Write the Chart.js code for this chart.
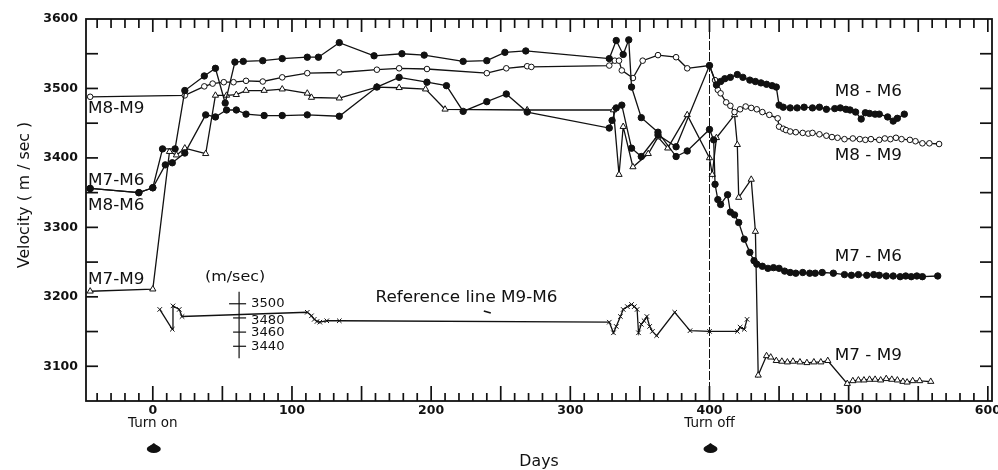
<!DOCTYPE html>
<html>
<head>
<meta charset="utf-8">
<script src="https://cdn.jsdelivr.net/npm/chart.js@4.4.0/dist/chart.umd.min.js"></script>
<style>
  html, body { margin: 0; padding: 0; background: #fff; }
  canvas { display: block; }
</style>
</head>
<body>
<canvas id="chart" width="998" height="470"></canvas>
<script>
// ---------- data (days after turn on / velocity m/sec) ----------
// M7-M6 : filled circles
const m76Days = [-45,-10,0,7,16,23,37,45,52,59,65,79,93,111,119,134,159,179,195,223,240,253,268,328,333,338,342,344,351,363,376,384,400,403,404,406,408,413,415,418,421,425,429,432,434,438,442,446,450,454,458,462,467,472,476,481,489,497,502,507,513,518,522,527,532,537,541,545,549,553,564];
const m76Vel  = [3356,3350,3357,3413,3413,3497,3518,3529,3479,3538,3539,3540,3543,3545,3545,3566,3547,3550,3548,3539,3540,3552,3554,3543,3569,3549,3570,3502,3458,3437,3402,3410,3441,3426,3362,3340,3333,3347,3322,3318,3307,3283,3264,3252,3247,3244,3241,3242,3241,3237,3235,3234,3235,3234,3234,3235,3234,3232,3231,3232,3231,3232,3231,3230,3230,3229,3230,3229,3230,3229,3230];

// M8-M6 : filled circles
const m86Days = [-45,-10,0,9,14,23,38,45,53,60,67,80,93,111,134,161,177,197,211,223,240,254,269,328,330,333,337,344,351,363,376,400,405,408,411,415,420,424,429,433,437,441,445,448,450,453,458,463,468,474,479,484,490,494,498,501,505,509,512,515,519,522,528,532,535,540];
const m86Vel  = [3356,3350,3357,3390,3393,3407,3462,3459,3469,3469,3463,3461,3461,3462,3460,3502,3516,3509,3504,3467,3481,3492,3466,3443,3454,3472,3476,3414,3402,3433,3416,3533,3505,3510,3514,3516,3520,3516,3512,3510,3508,3506,3504,3502,3476,3473,3472,3472,3473,3472,3473,3470,3471,3472,3470,3469,3466,3456,3465,3464,3463,3463,3459,3453,3457,3463];

// M8-M9 : open circles
const m89Days = [-45,23,37,43,51,58,67,79,93,111,134,161,177,197,240,254,269,272,328,332,335,337,345,352,363,376,384,400,404,406,408,412,415,418,422,426,430,434,438,443,449,450,453,455,458,462,467,471,474,479,484,488,492,497,503,508,512,516,522,526,530,534,538,544,548,553,558,565];
const m89Vel  = [3488,3490,3503,3507,3509,3509,3511,3510,3516,3522,3523,3527,3529,3528,3522,3529,3532,3531,3533,3540,3540,3526,3515,3540,3548,3545,3529,3533,3512,3498,3493,3480,3475,3466,3470,3474,3472,3470,3466,3462,3457,3445,3442,3440,3438,3437,3436,3435,3436,3434,3432,3430,3429,3427,3428,3427,3426,3427,3426,3428,3427,3429,3427,3426,3424,3421,3421,3420];

// M7-M9 : open triangles
const m79Days = [-45,0,12,17,23,38,45,53,60,67,80,93,111,114,134,161,177,196,210,269,331,335,338,345,356,363,370,384,400,402,405,418,420,421,430,433,435,441,444,448,452,456,460,465,470,475,480,485,499,503,507,511,515,519,523,527,531,535,539,542,546,551,559];
const m79Vel  = [3208,3211,3409,3404,3414,3406,3490,3490,3491,3497,3497,3499,3493,3487,3486,3502,3501,3499,3470,3469,3469,3376,3445,3387,3406,3430,3414,3462,3400,3376,3429,3462,3419,3343,3369,3294,3087,3115,3113,3108,3107,3106,3107,3106,3105,3106,3106,3108,3075,3079,3080,3080,3081,3081,3080,3082,3081,3080,3078,3077,3079,3079,3078];

// Reference line M9-M6 : crosses, read on the small inset scale (m/sec)
const refDays = [5,14,14.5,19,21,111,114,116,118,120,125,134,328,331,333,336,338,341,344,346,348,349,351,353,355,357,359,362,375,386,400,420,422,425,427];
const refVel  = [3492,3464,3497,3492,3482,3488,3483,3478,3475,3474,3476,3476,3474,3459,3468,3482,3492,3496,3499,3496,3492,3459,3471,3476,3482,3468,3461,3455,3488,3462,3461,3461,3467,3464,3478];

const turnOnDay = 0;
const turnOffDay = 400;
const xTickValues = [0, 100, 200, 300, 400, 500, 600];
const yTickValues = [3100, 3200, 3300, 3400, 3500, 3600];
const insetTickVel = [3500, 3480, 3460, 3440];
const insetBarVel = [3517, 3423];

// ---------- helpers ----------
const INK = "#111";
const FONT = "'DejaVu Sans', 'Liberation Sans', sans-serif";
const INSET_BASE = 3190;   // where 3500 m/sec of the inset sits on the main axis
const INSET_GAIN = 1.02;   // main-axis units per inset m/sec
const INSET_DAY = 62;      // day position of the inset scale bar

function insetY(v) {
  return INSET_BASE + (v - 3500) * INSET_GAIN;
}
function pairs(days, vel, map) {
  return days.map((d, i) => ({ x: d, y: map ? map(vel[i]) : vel[i] }));
}

function series(label, data, style, radius, filled) {
  return {
    label: label,
    data: data,
    showLine: true,
    borderColor: INK,
    borderWidth: 1.3,
    pointStyle: style,
    pointRadius: radius,
    pointBorderWidth: 1,
    pointBorderColor: INK,
    pointBackgroundColor: filled ? INK : "#fff",
    tension: 0
  };
}

// text stretched sideways a bit, the original lettering is wide
function wideText(ctx, text, x, y, size, align, stretch) {
  stretch = stretch || 1.12;
  ctx.save();
  ctx.font = size + "px " + FONT;
  ctx.fillStyle = INK;
  ctx.textBaseline = "middle";
  const w = ctx.measureText(text).width * stretch;
  let left = x;
  if (align === "center") left = x - w / 2;
  if (align === "right") left = x - w;
  ctx.translate(left, y);
  ctx.scale(stretch, 1);
  ctx.textAlign = "left";
  ctx.fillText(text, 0, 0);
  ctx.restore();
}

function seg(ctx, x1, y1, x2, y2) {
  ctx.beginPath();
  ctx.moveTo(x1, y1);
  ctx.lineTo(x2, y2);
  ctx.stroke();
}

// ---------- annotations: frame, inward ticks, turn off line, inset scale, labels ----------
const seriesNotes = [
  { text: "M8-M9", day: -46.5, vel: 3470 },
  { text: "M7-M6", day: -46.5, vel: 3366 },
  { text: "M8-M6", day: -46.5, vel: 3331 },
  { text: "M7-M9", day: -46.5, vel: 3224 },
  { text: "M8 - M6", day: 490, vel: 3495 },
  { text: "M8 - M9", day: 490, vel: 3402 },
  { text: "M7 - M6", day: 490, vel: 3257 },
  { text: "M7 - M9", day: 490, vel: 3115 }
];

const notesPlugin = {
  id: "notes",
  afterDraw(chart) {
    const ctx = chart.ctx;
    const a = chart.chartArea;
    const x = chart.scales.x;
    const y = chart.scales.y;
    const L = a.left, R = a.right, T = a.top, B = a.bottom;

    ctx.save();
    ctx.strokeStyle = INK;
    ctx.lineWidth = 1.7;

    // inward ticks on top / bottom every 10 days, longer every 50
    for (let i = 0; i <= 64; i++) {
      const d = -40 + i * 10;
      const px = x.getPixelForValue(d);
      const major = d % 50 === 0;
      seg(ctx, px, B, px, B - (major ? 15 : 8));
      seg(ctx, px, T, px, T + (major ? 13 : 9));
    }
    // inward ticks left / right every 50 m/sec
    for (let j = 0; j < 10; j++) {
      const py = y.getPixelForValue(3100 + j * 50);
      seg(ctx, L, py, L + 12, py);
      seg(ctx, R, py, R - 12, py);
    }

    // frame
    ctx.lineWidth = 1.8;
    ctx.strokeRect(L, T, R - L, B - T);

    // turn off line
    const xo = Math.round(x.getPixelForValue(turnOffDay)) + 0.5;
    ctx.lineWidth = 1;
    ctx.setLineDash([9, 2]);
    seg(ctx, xo, T, xo, B);
    ctx.setLineDash([]);

    // inset scale for the reference line
    const bx = x.getPixelForValue(INSET_DAY);
    ctx.lineWidth = 1.2;
    seg(ctx, bx, y.getPixelForValue(insetY(insetBarVel[0])), bx, y.getPixelForValue(insetY(insetBarVel[1])));
    insetTickVel.forEach((v, i) => {
      const py = y.getPixelForValue(insetY(v));
      seg(ctx, bx - (i === 0 ? 10 : 6), py, bx + 7, py);
    });

    // small mark under the reference label
    ctx.lineWidth = 1.6;
    const tx = x.getPixelForValue(240), ty = y.getPixelForValue(3178);
    seg(ctx, tx - 3, ty - 1, tx + 4, ty + 1);
    ctx.restore();

    seriesNotes.forEach(n => {
      wideText(ctx, n.text, x.getPixelForValue(n.day), y.getPixelForValue(n.vel), 15, "left", 1.12);
    });

    // inset labels
    wideText(ctx, "(m/sec)", bx - 4, y.getPixelForValue(3228), 14.5, "center", 1.1);
    insetTickVel.forEach((v, i) => {
      const py = y.getPixelForValue(insetY(v)) + (i === 1 ? 3 : i === 2 ? 1 : 0);
      wideText(ctx, String(v), bx + 12, py, 12.5, "left", 1.05);
    });

    wideText(ctx, "Reference line M9-M6", x.getPixelForValue(160), y.getPixelForValue(3198), 15, "left", 1.12);

    // below the axis
    [[turnOnDay, "Turn on"], [turnOffDay, "Turn off"]].forEach(([d, t]) => {
      const px = x.getPixelForValue(d);
      wideText(ctx, t, px, B + 22, 13.5, "center", 1.0);
      ctx.save();
      ctx.fillStyle = INK;
      ctx.beginPath();
      ctx.ellipse(px + 1, B + 48, 7, 4, 0, 0, Math.PI * 2);
      ctx.fill();
      ctx.beginPath();
      ctx.moveTo(px - 3, B + 45);
      ctx.lineTo(px + 1, B + 42);
      ctx.lineTo(px + 5, B + 45);
      ctx.fill();
      ctx.restore();
    });
    wideText(ctx, "Days", (L + R) / 2, B + 61, 15, "center", 1.05);

    // y title
    ctx.save();
    ctx.translate(25, 195);
    ctx.rotate(-Math.PI / 2);
    wideText(ctx, "Velocity ( m / sec )", 0, 0, 15, "center", 1.05);
    ctx.restore();
  }
};

// ---------- chart ----------
const tickFont = { family: FONT, size: 12.5, weight: "bold" };

new Chart(document.getElementById("chart"), {
  type: "scatter",
  data: {
    datasets: [
      series("M7-M6", pairs(m76Days, m76Vel), "circle", 3.2, true),
      series("M8-M6", pairs(m86Days, m86Vel), "circle", 3.2, true),
      series("M8-M9", pairs(m89Days, m89Vel), "circle", 2.8, false),
      series("M7-M9", pairs(m79Days, m79Vel), "triangle", 3.6, false),
      series("Reference line M9-M6", pairs(refDays, refVel, insetY), "crossRot", 3.2, false)
    ]
  },
  options: {
    responsive: false,
    animation: false,
    devicePixelRatio: 1,
    layout: { padding: { top: 19, right: 6, left: 0, bottom: 0 } },
    plugins: {
      legend: { display: false },
      tooltip: { enabled: false }
    },
    scales: {
      x: {
        type: "linear",
        min: -48,
        max: 603,
        grid: { display: false, drawTicks: false },
        border: { display: false },
        afterBuildTicks: s => { s.ticks = xTickValues.map(v => ({ value: v })); },
        afterFit: s => { s.height = 69; s.paddingLeft = 0; s.paddingRight = 0; },
        ticks: { font: tickFont, color: INK, padding: 2, maxRotation: 0, autoSkip: false, callback: v => String(v) }
      },
      y: {
        type: "linear",
        min: 3050,
        max: 3600,
        grid: { display: false, drawTicks: false },
        border: { display: false },
        afterBuildTicks: s => { s.ticks = yTickValues.map(v => ({ value: v })); },
        afterFit: s => { s.width = 86; s.paddingTop = 0; s.paddingBottom = 0; },
        ticks: { font: tickFont, color: INK, padding: 8, autoSkip: false, callback: v => String(v) }
      }
    }
  },
  plugins: [notesPlugin]
});
</script>
</body>
</html>
